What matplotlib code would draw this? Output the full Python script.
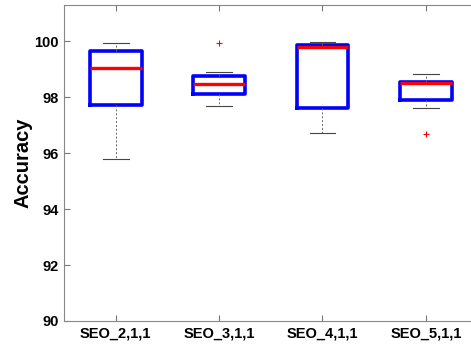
import matplotlib.pyplot as plt

labels = ["SEO_2,1,1", "SEO_3,1,1", "SEO_4,1,1", "SEO_5,1,1"]
lo_whisker = [95.78, 97.70, 96.74, 97.63]
q1 = [97.74, 98.10, 97.60, 97.89]
medians = [99.06, 98.46, 99.79, 98.50]
q3 = [99.65, 98.76, 99.87, 98.56]
hi_whisker = [99.94, 98.90, 99.96, 98.82]
outliers = [[], [99.94], [], [96.67]]

stats = []
for i in range(len(labels)):
    stats.append(dict(label=labels[i], whislo=lo_whisker[i], q1=q1[i], med=medians[i],
                      q3=q3[i], whishi=hi_whisker[i], fliers=outliers[i]))

plt.rcParams['font.family'] = ['Liberation Sans', 'DejaVu Sans']
fig = plt.figure(figsize=(4.71, 3.44), dpi=100)
ax = fig.add_axes([64 / 471, 1 - 321 / 344, (477.5 - 64) / 471, (321 - 5) / 344])

ax.bxp(stats, widths=0.5, showfliers=True,
       boxprops=dict(color="#0000ff", linewidth=2.6),
       medianprops=dict(color="#ff0000", linewidth=2.4),
       whiskerprops=dict(color="#666666", linewidth=0.7, linestyle=(0, (2, 2))),
       capprops=dict(color="#444444", linewidth=0.8),
       capwidths=0.25,
       flierprops=dict(marker="+", color="#ff0000", markerfacecolor="#ff0000",
                       markeredgecolor="#ff0000", markersize=5, markeredgewidth=0.8))

ax.set_xlim(0.5, 4.5)
ax.set_ylim(90, 101.3)
ax.set_yticks([90, 92, 94, 96, 98, 100])
ax.set_ylabel("Accuracy", fontsize=14.5, fontweight="bold", labelpad=1)
for t in ax.get_xticklabels() + ax.get_yticklabels():
    t.set_fontweight("bold")
    t.set_fontsize(10.5)
ax.tick_params(direction="in", top=True, right=True, length=4, color="#777777", pad=4)
for s in ax.spines.values():
    s.set_color("#888888")
    s.set_linewidth(0.8)

plt.savefig("out.png", dpi=100)
